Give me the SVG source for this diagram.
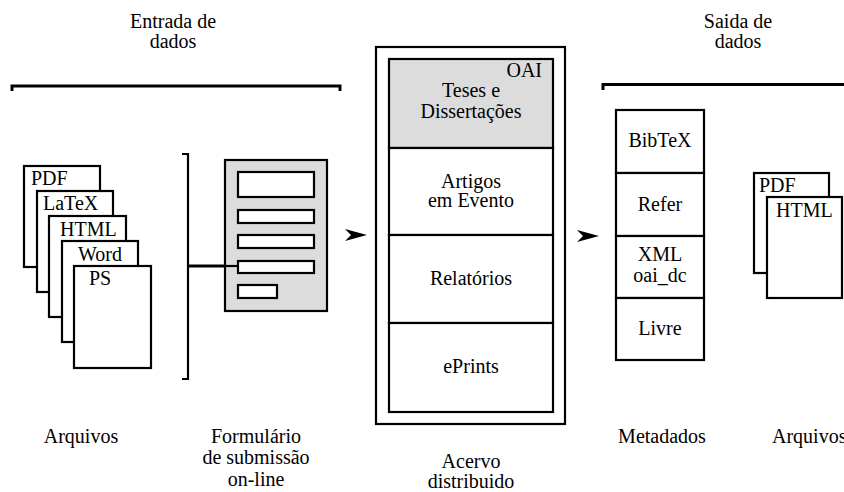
<svg xmlns="http://www.w3.org/2000/svg" width="844" height="492" viewBox="0 0 844 492" font-family="Liberation Serif, Times New Roman, Times, DejaVu Serif, serif" font-size="20">
<style>
  text { font-family: "Liberation Serif", "Times New Roman", Times, "DejaVu Serif", serif; font-size: 20px; fill: #000; }
  .c { text-anchor: middle; }
  .box { fill: #fff; stroke: #000; stroke-width: 2.2; }
  .gray { fill: #dcdcdc; stroke: #000; stroke-width: 2.2; }
  .line { fill: none; stroke: #000; stroke-width: 2.2; }
  .thick { fill: none; stroke: #000; stroke-width: 3; }
  .arrowhead { fill: #000; stroke: none; }
</style>
<rect width="844" height="492" fill="#fff"/>

<g id="entrada-label">
  <path class="thick" d="M12,91 V86 H340 V91"/>
  <text class="c" x="173" y="28">Entrada de</text>
  <text class="c" x="173" y="48">dados</text>
</g>

<g id="saida-label">
  <path class="thick" d="M603,90 V84.5 H844"/>
  <text class="c" x="738" y="28">Saida de</text>
  <text class="c" x="738" y="48">dados</text>
</g>

<g id="arquivos-entrada">
  <rect class="box" x="24" y="166" width="76" height="101"/>
  <text x="31" y="185">PDF</text>
  <rect class="box" x="37" y="191" width="76" height="101"/>
  <text x="43" y="210">LaTeX</text>
  <rect class="box" x="49" y="216" width="77" height="101"/>
  <text x="60" y="236">HTML</text>
  <rect class="box" x="62" y="241" width="76" height="101"/>
  <text x="78" y="261">Word</text>
  <rect class="box" x="74" y="266" width="77" height="102"/>
  <text x="89" y="285">PS</text>
  <text class="c" x="81" y="443">Arquivos</text>
</g>

<g id="formulario">
  <rect class="gray" x="225" y="160" width="102" height="151"/>
  <rect class="box" x="238" y="172" width="76" height="25"/>
  <rect class="box" x="238" y="210" width="76" height="13"/>
  <rect class="box" x="238" y="235" width="76" height="13"/>
  <rect class="box" x="238" y="261" width="76" height="12"/>
  <rect class="box" x="238" y="285" width="39" height="13"/>
  <text class="c" x="256" y="443">Formulário</text>
  <text class="c" x="256" y="464">de submissão</text>
  <text class="c" x="256" y="486">on-line</text>
</g>

<g id="acervo">
  <rect class="box" x="376" y="47" width="189" height="377"/>
  <rect class="gray" x="389" y="59" width="164" height="89"/>
  <rect class="box" x="389" y="148" width="164" height="87"/>
  <rect class="box" x="389" y="235" width="164" height="88"/>
  <rect class="box" x="389" y="323" width="164" height="89"/>
  <text x="542" y="77" text-anchor="end">OAI</text>
  <text class="c" x="471" y="97">Teses e</text>
  <text class="c" x="471" y="118">Dissertações</text>
  <text class="c" x="471" y="188">Artigos</text>
  <text class="c" x="471" y="207">em Evento</text>
  <text class="c" x="471" y="285">Relatórios</text>
  <text class="c" x="471" y="373">ePrints</text>
  <text class="c" x="471" y="468">Acervo</text>
  <text class="c" x="471" y="488">distribuido</text>
</g>

<g id="metadados">
  <rect class="box" x="616" y="110" width="88" height="63"/>
  <rect class="box" x="616" y="173" width="88" height="63"/>
  <rect class="box" x="616" y="236" width="88" height="62"/>
  <rect class="box" x="616" y="298" width="88" height="62"/>
  <text class="c" x="660" y="147">BibTeX</text>
  <text class="c" x="660" y="211">Refer</text>
  <text class="c" x="660" y="261">XML</text>
  <text class="c" x="660" y="282">oai_dc</text>
  <text class="c" x="660" y="335">Livre</text>
  <text class="c" x="662" y="443">Metadados</text>
</g>

<g id="arquivos-saida">
  <rect class="box" x="754" y="173" width="75" height="100"/>
  <text x="759" y="192">PDF</text>
  <rect class="box" x="767" y="197" width="75" height="101"/>
  <text x="776" y="217">HTML</text>
  <text x="772" y="443">Arquivos</text>
</g>

<g id="connectors">
  <path class="line" d="M182,154 H188 V379 H182"/>
  <line class="thick" x1="188" y1="266" x2="225" y2="266"/>
  <line class="line" x1="225" y1="266" x2="238" y2="266"/>
  <path class="arrowhead" d="M367,235 L345,229 L351,235 L345,241 Z"/>
  <path class="arrowhead" d="M599,236 L577,230 L583,236 L577,242 Z"/>
</g>
</svg>
